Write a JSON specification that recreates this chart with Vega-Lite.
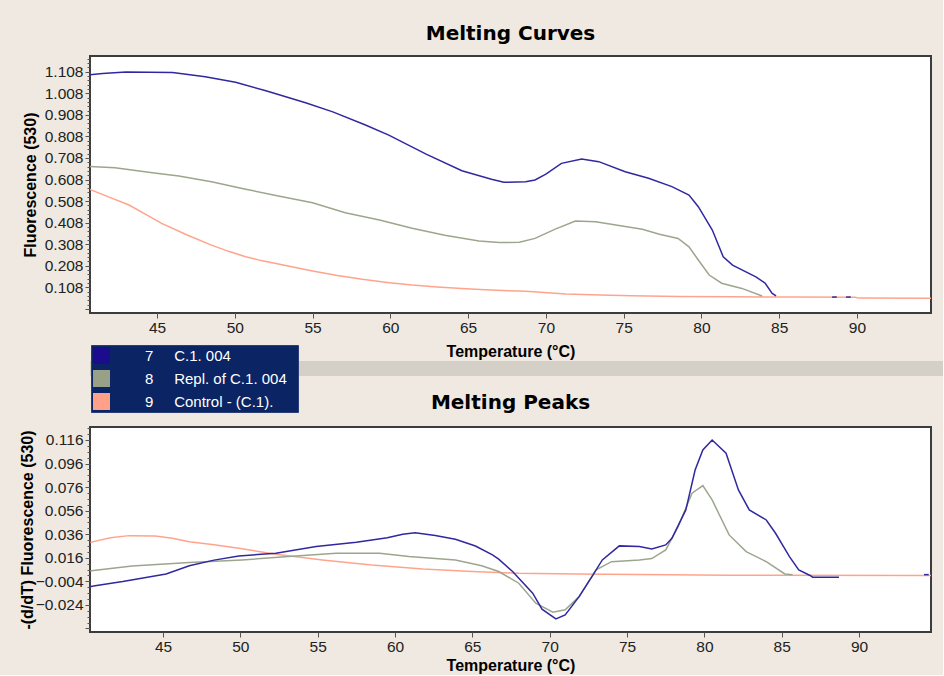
{
  "$schema": "https://vega.github.io/schema/vega-lite/v6.json",
  "background": "#EFE9E1",
  "padding": {"left": 18, "top": 22, "right": 0, "bottom": 0},
  "config": {
    "view": {"stroke": "#3c3c3c", "strokeWidth": 2, "fill": "#ffffff"},
    "axis": {
      "labelFont": "Liberation Sans", "labelFontSize": 15.5, "labelColor": "#222222",
      "titleFont": "Liberation Sans", "titleFontSize": 16, "titleFontWeight": "bold", "titleColor": "#000000",
      "tickColor": "#555555", "domain": false, "grid": false, "labelOverlap": false
    },
    "title": {"font": "DejaVu Sans", "fontSize": 20, "fontWeight": "bold", "color": "#000000", "anchor": "middle"}
  },
  "datasets": {
    "curves": [
      {"T": 40.5, "F": 0.567, "sample": "Control - (C.1).", "seg": "c"},
      {"T": 41.8, "F": 0.53, "sample": "Control - (C.1).", "seg": "c"},
      {"T": 43.2, "F": 0.49, "sample": "Control - (C.1).", "seg": "c"},
      {"T": 44.3, "F": 0.445, "sample": "Control - (C.1).", "seg": "c"},
      {"T": 45.3, "F": 0.405, "sample": "Control - (C.1).", "seg": "c"},
      {"T": 46.9, "F": 0.352, "sample": "Control - (C.1).", "seg": "c"},
      {"T": 48.5, "F": 0.304, "sample": "Control - (C.1).", "seg": "c"},
      {"T": 49.6, "F": 0.275, "sample": "Control - (C.1).", "seg": "c"},
      {"T": 50.7, "F": 0.25, "sample": "Control - (C.1).", "seg": "c"},
      {"T": 51.7, "F": 0.232, "sample": "Control - (C.1).", "seg": "c"},
      {"T": 52.8, "F": 0.216, "sample": "Control - (C.1).", "seg": "c"},
      {"T": 55.0, "F": 0.184, "sample": "Control - (C.1).", "seg": "c"},
      {"T": 56.6, "F": 0.163, "sample": "Control - (C.1).", "seg": "c"},
      {"T": 58.2, "F": 0.145, "sample": "Control - (C.1).", "seg": "c"},
      {"T": 59.8, "F": 0.131, "sample": "Control - (C.1).", "seg": "c"},
      {"T": 61.4, "F": 0.119, "sample": "Control - (C.1).", "seg": "c"},
      {"T": 63.0, "F": 0.11, "sample": "Control - (C.1).", "seg": "c"},
      {"T": 64.6, "F": 0.103, "sample": "Control - (C.1).", "seg": "c"},
      {"T": 66.1, "F": 0.097, "sample": "Control - (C.1).", "seg": "c"},
      {"T": 67.6, "F": 0.092, "sample": "Control - (C.1).", "seg": "c"},
      {"T": 68.7, "F": 0.09, "sample": "Control - (C.1).", "seg": "c"},
      {"T": 71.3, "F": 0.077, "sample": "Control - (C.1).", "seg": "c"},
      {"T": 73.5, "F": 0.072, "sample": "Control - (C.1).", "seg": "c"},
      {"T": 75.5, "F": 0.069, "sample": "Control - (C.1).", "seg": "c"},
      {"T": 78.5, "F": 0.066, "sample": "Control - (C.1).", "seg": "c"},
      {"T": 82.0, "F": 0.064, "sample": "Control - (C.1).", "seg": "c"},
      {"T": 86.0, "F": 0.063, "sample": "Control - (C.1).", "seg": "c"},
      {"T": 89.9, "F": 0.062, "sample": "Control - (C.1).", "seg": "c"},
      {"T": 90.1, "F": 0.058, "sample": "Control - (C.1).", "seg": "c"},
      {"T": 94.8, "F": 0.057, "sample": "Control - (C.1).", "seg": "c"},
      {"T": 40.5, "F": 0.669, "sample": "Repl. of C.1. 004", "seg": "g"},
      {"T": 42.3, "F": 0.663, "sample": "Repl. of C.1. 004", "seg": "g"},
      {"T": 44.7, "F": 0.64, "sample": "Repl. of C.1. 004", "seg": "g"},
      {"T": 46.4, "F": 0.624, "sample": "Repl. of C.1. 004", "seg": "g"},
      {"T": 48.5, "F": 0.598, "sample": "Repl. of C.1. 004", "seg": "g"},
      {"T": 50.7, "F": 0.563, "sample": "Repl. of C.1. 004", "seg": "g"},
      {"T": 52.8, "F": 0.532, "sample": "Repl. of C.1. 004", "seg": "g"},
      {"T": 55.0, "F": 0.5, "sample": "Repl. of C.1. 004", "seg": "g"},
      {"T": 57.1, "F": 0.454, "sample": "Repl. of C.1. 004", "seg": "g"},
      {"T": 59.3, "F": 0.42, "sample": "Repl. of C.1. 004", "seg": "g"},
      {"T": 61.4, "F": 0.382, "sample": "Repl. of C.1. 004", "seg": "g"},
      {"T": 63.5, "F": 0.35, "sample": "Repl. of C.1. 004", "seg": "g"},
      {"T": 65.7, "F": 0.323, "sample": "Repl. of C.1. 004", "seg": "g"},
      {"T": 67.0, "F": 0.316, "sample": "Repl. of C.1. 004", "seg": "g"},
      {"T": 68.3, "F": 0.317, "sample": "Repl. of C.1. 004", "seg": "g"},
      {"T": 69.3, "F": 0.335, "sample": "Repl. of C.1. 004", "seg": "g"},
      {"T": 70.6, "F": 0.378, "sample": "Repl. of C.1. 004", "seg": "g"},
      {"T": 71.9, "F": 0.416, "sample": "Repl. of C.1. 004", "seg": "g"},
      {"T": 73.2, "F": 0.412, "sample": "Repl. of C.1. 004", "seg": "g"},
      {"T": 74.9, "F": 0.392, "sample": "Repl. of C.1. 004", "seg": "g"},
      {"T": 76.2, "F": 0.377, "sample": "Repl. of C.1. 004", "seg": "g"},
      {"T": 77.3, "F": 0.354, "sample": "Repl. of C.1. 004", "seg": "g"},
      {"T": 78.5, "F": 0.335, "sample": "Repl. of C.1. 004", "seg": "g"},
      {"T": 79.2, "F": 0.296, "sample": "Repl. of C.1. 004", "seg": "g"},
      {"T": 79.8, "F": 0.235, "sample": "Repl. of C.1. 004", "seg": "g"},
      {"T": 80.5, "F": 0.165, "sample": "Repl. of C.1. 004", "seg": "g"},
      {"T": 81.3, "F": 0.127, "sample": "Repl. of C.1. 004", "seg": "g"},
      {"T": 82.6, "F": 0.103, "sample": "Repl. of C.1. 004", "seg": "g"},
      {"T": 83.9, "F": 0.068, "sample": "Repl. of C.1. 004", "seg": "g"},
      {"T": 40.5, "F": 1.093, "sample": "C.1. 004", "seg": "b1"},
      {"T": 41.5, "F": 1.1, "sample": "C.1. 004", "seg": "b1"},
      {"T": 43.0, "F": 1.107, "sample": "C.1. 004", "seg": "b1"},
      {"T": 46.0, "F": 1.105, "sample": "C.1. 004", "seg": "b1"},
      {"T": 48.1, "F": 1.085, "sample": "C.1. 004", "seg": "b1"},
      {"T": 50.05, "F": 1.059, "sample": "C.1. 004", "seg": "b1"},
      {"T": 52.0, "F": 1.02, "sample": "C.1. 004", "seg": "b1"},
      {"T": 54.55, "F": 0.964, "sample": "C.1. 004", "seg": "b1"},
      {"T": 56.3, "F": 0.922, "sample": "C.1. 004", "seg": "b1"},
      {"T": 58.4, "F": 0.861, "sample": "C.1. 004", "seg": "b1"},
      {"T": 59.9, "F": 0.814, "sample": "C.1. 004", "seg": "b1"},
      {"T": 62.3, "F": 0.726, "sample": "C.1. 004", "seg": "b1"},
      {"T": 64.6, "F": 0.649, "sample": "C.1. 004", "seg": "b1"},
      {"T": 66.5, "F": 0.609, "sample": "C.1. 004", "seg": "b1"},
      {"T": 67.3, "F": 0.595, "sample": "C.1. 004", "seg": "b1"},
      {"T": 68.7, "F": 0.598, "sample": "C.1. 004", "seg": "b1"},
      {"T": 69.3, "F": 0.606, "sample": "C.1. 004", "seg": "b1"},
      {"T": 70.0, "F": 0.633, "sample": "C.1. 004", "seg": "b1"},
      {"T": 71.0, "F": 0.683, "sample": "C.1. 004", "seg": "b1"},
      {"T": 72.3, "F": 0.703, "sample": "C.1. 004", "seg": "b1"},
      {"T": 73.4, "F": 0.691, "sample": "C.1. 004", "seg": "b1"},
      {"T": 75.1, "F": 0.644, "sample": "C.1. 004", "seg": "b1"},
      {"T": 76.6, "F": 0.614, "sample": "C.1. 004", "seg": "b1"},
      {"T": 78.1, "F": 0.575, "sample": "C.1. 004", "seg": "b1"},
      {"T": 79.2, "F": 0.536, "sample": "C.1. 004", "seg": "b1"},
      {"T": 79.8, "F": 0.482, "sample": "C.1. 004", "seg": "b1"},
      {"T": 80.7, "F": 0.374, "sample": "C.1. 004", "seg": "b1"},
      {"T": 81.4, "F": 0.25, "sample": "C.1. 004", "seg": "b1"},
      {"T": 82.0, "F": 0.211, "sample": "C.1. 004", "seg": "b1"},
      {"T": 83.5, "F": 0.157, "sample": "C.1. 004", "seg": "b1"},
      {"T": 84.1, "F": 0.127, "sample": "C.1. 004", "seg": "b1"},
      {"T": 84.55, "F": 0.08, "sample": "C.1. 004", "seg": "b1"},
      {"T": 84.8, "F": 0.068, "sample": "C.1. 004", "seg": "b1"},
      {"T": 88.4, "F": 0.063, "sample": "C.1. 004", "seg": "b2"},
      {"T": 88.7, "F": 0.063, "sample": "C.1. 004", "seg": "b2"},
      {"T": 89.3, "F": 0.063, "sample": "C.1. 004", "seg": "b3"},
      {"T": 89.6, "F": 0.063, "sample": "C.1. 004", "seg": "b3"}
    ],
    "peaks": [
      {"T": 40.3, "D": 0.029, "sample": "Control - (C.1).", "seg": "c"},
      {"T": 40.5, "D": 0.0297, "sample": "Control - (C.1).", "seg": "c"},
      {"T": 41.6, "D": 0.033, "sample": "Control - (C.1).", "seg": "c"},
      {"T": 42.8, "D": 0.0348, "sample": "Control - (C.1).", "seg": "c"},
      {"T": 44.5, "D": 0.0345, "sample": "Control - (C.1).", "seg": "c"},
      {"T": 45.6, "D": 0.0325, "sample": "Control - (C.1).", "seg": "c"},
      {"T": 46.7, "D": 0.0297, "sample": "Control - (C.1).", "seg": "c"},
      {"T": 48.3, "D": 0.027, "sample": "Control - (C.1).", "seg": "c"},
      {"T": 49.9, "D": 0.0241, "sample": "Control - (C.1).", "seg": "c"},
      {"T": 52.3, "D": 0.019, "sample": "Control - (C.1).", "seg": "c"},
      {"T": 55.3, "D": 0.0142, "sample": "Control - (C.1).", "seg": "c"},
      {"T": 58.5, "D": 0.0099, "sample": "Control - (C.1).", "seg": "c"},
      {"T": 61.8, "D": 0.0065, "sample": "Control - (C.1).", "seg": "c"},
      {"T": 65.0, "D": 0.0043, "sample": "Control - (C.1).", "seg": "c"},
      {"T": 68.0, "D": 0.0029, "sample": "Control - (C.1).", "seg": "c"},
      {"T": 71.7, "D": 0.0023, "sample": "Control - (C.1).", "seg": "c"},
      {"T": 81.6, "D": 0.0012, "sample": "Control - (C.1).", "seg": "c"},
      {"T": 94.7, "D": 0.0009, "sample": "Control - (C.1).", "seg": "c"},
      {"T": 40.3, "D": 0.0048, "sample": "Repl. of C.1. 004", "seg": "g"},
      {"T": 40.5, "D": 0.0051, "sample": "Repl. of C.1. 004", "seg": "g"},
      {"T": 43.0, "D": 0.0091, "sample": "Repl. of C.1. 004", "seg": "g"},
      {"T": 46.7, "D": 0.0119, "sample": "Repl. of C.1. 004", "seg": "g"},
      {"T": 50.1, "D": 0.0142, "sample": "Repl. of C.1. 004", "seg": "g"},
      {"T": 53.1, "D": 0.017, "sample": "Repl. of C.1. 004", "seg": "g"},
      {"T": 56.2, "D": 0.0199, "sample": "Repl. of C.1. 004", "seg": "g"},
      {"T": 59.0, "D": 0.0199, "sample": "Repl. of C.1. 004", "seg": "g"},
      {"T": 60.9, "D": 0.017, "sample": "Repl. of C.1. 004", "seg": "g"},
      {"T": 63.9, "D": 0.0142, "sample": "Repl. of C.1. 004", "seg": "g"},
      {"T": 65.6, "D": 0.0093, "sample": "Repl. of C.1. 004", "seg": "g"},
      {"T": 66.7, "D": 0.0043, "sample": "Repl. of C.1. 004", "seg": "g"},
      {"T": 68.0, "D": -0.0056, "sample": "Repl. of C.1. 004", "seg": "g"},
      {"T": 69.1, "D": -0.0226, "sample": "Repl. of C.1. 004", "seg": "g"},
      {"T": 70.2, "D": -0.0302, "sample": "Repl. of C.1. 004", "seg": "g"},
      {"T": 71.0, "D": -0.0282, "sample": "Repl. of C.1. 004", "seg": "g"},
      {"T": 71.9, "D": -0.017, "sample": "Repl. of C.1. 004", "seg": "g"},
      {"T": 73.0, "D": 0.0057, "sample": "Repl. of C.1. 004", "seg": "g"},
      {"T": 74.0, "D": 0.0127, "sample": "Repl. of C.1. 004", "seg": "g"},
      {"T": 75.8, "D": 0.0142, "sample": "Repl. of C.1. 004", "seg": "g"},
      {"T": 76.6, "D": 0.0153, "sample": "Repl. of C.1. 004", "seg": "g"},
      {"T": 77.5, "D": 0.0227, "sample": "Repl. of C.1. 004", "seg": "g"},
      {"T": 78.3, "D": 0.0424, "sample": "Repl. of C.1. 004", "seg": "g"},
      {"T": 79.2, "D": 0.0708, "sample": "Repl. of C.1. 004", "seg": "g"},
      {"T": 79.9, "D": 0.0772, "sample": "Repl. of C.1. 004", "seg": "g"},
      {"T": 80.5, "D": 0.0651, "sample": "Repl. of C.1. 004", "seg": "g"},
      {"T": 81.6, "D": 0.0354, "sample": "Repl. of C.1. 004", "seg": "g"},
      {"T": 82.7, "D": 0.0212, "sample": "Repl. of C.1. 004", "seg": "g"},
      {"T": 84.0, "D": 0.0127, "sample": "Repl. of C.1. 004", "seg": "g"},
      {"T": 85.2, "D": 0.0023, "sample": "Repl. of C.1. 004", "seg": "g"},
      {"T": 85.7, "D": 0.0015, "sample": "Repl. of C.1. 004", "seg": "g"},
      {"T": 40.3, "D": -0.0085, "sample": "C.1. 004", "seg": "b1"},
      {"T": 40.5, "D": -0.008, "sample": "C.1. 004", "seg": "b1"},
      {"T": 42.4, "D": -0.0042, "sample": "C.1. 004", "seg": "b1"},
      {"T": 45.2, "D": 0.0023, "sample": "C.1. 004", "seg": "b1"},
      {"T": 46.7, "D": 0.0093, "sample": "C.1. 004", "seg": "b1"},
      {"T": 48.3, "D": 0.014, "sample": "C.1. 004", "seg": "b1"},
      {"T": 49.9, "D": 0.0176, "sample": "C.1. 004", "seg": "b1"},
      {"T": 52.3, "D": 0.0199, "sample": "C.1. 004", "seg": "b1"},
      {"T": 54.9, "D": 0.0255, "sample": "C.1. 004", "seg": "b1"},
      {"T": 57.5, "D": 0.0292, "sample": "C.1. 004", "seg": "b1"},
      {"T": 59.5, "D": 0.033, "sample": "C.1. 004", "seg": "b1"},
      {"T": 60.5, "D": 0.036, "sample": "C.1. 004", "seg": "b1"},
      {"T": 61.3, "D": 0.0373, "sample": "C.1. 004", "seg": "b1"},
      {"T": 62.6, "D": 0.035, "sample": "C.1. 004", "seg": "b1"},
      {"T": 63.9, "D": 0.0317, "sample": "C.1. 004", "seg": "b1"},
      {"T": 65.2, "D": 0.026, "sample": "C.1. 004", "seg": "b1"},
      {"T": 66.3, "D": 0.0184, "sample": "C.1. 004", "seg": "b1"},
      {"T": 66.7, "D": 0.0148, "sample": "C.1. 004", "seg": "b1"},
      {"T": 67.6, "D": 0.0043, "sample": "C.1. 004", "seg": "b1"},
      {"T": 68.9, "D": -0.0141, "sample": "C.1. 004", "seg": "b1"},
      {"T": 69.5, "D": -0.0276, "sample": "C.1. 004", "seg": "b1"},
      {"T": 70.4, "D": -0.0359, "sample": "C.1. 004", "seg": "b1"},
      {"T": 71.0, "D": -0.0325, "sample": "C.1. 004", "seg": "b1"},
      {"T": 71.9, "D": -0.017, "sample": "C.1. 004", "seg": "b1"},
      {"T": 72.8, "D": 0.0015, "sample": "C.1. 004", "seg": "b1"},
      {"T": 73.4, "D": 0.0142, "sample": "C.1. 004", "seg": "b1"},
      {"T": 74.5, "D": 0.0261, "sample": "C.1. 004", "seg": "b1"},
      {"T": 75.8, "D": 0.0255, "sample": "C.1. 004", "seg": "b1"},
      {"T": 76.6, "D": 0.0235, "sample": "C.1. 004", "seg": "b1"},
      {"T": 77.5, "D": 0.0269, "sample": "C.1. 004", "seg": "b1"},
      {"T": 77.9, "D": 0.0326, "sample": "C.1. 004", "seg": "b1"},
      {"T": 78.8, "D": 0.0566, "sample": "C.1. 004", "seg": "b1"},
      {"T": 79.4, "D": 0.0905, "sample": "C.1. 004", "seg": "b1"},
      {"T": 79.9, "D": 0.1075, "sample": "C.1. 004", "seg": "b1"},
      {"T": 80.5, "D": 0.116, "sample": "C.1. 004", "seg": "b1"},
      {"T": 81.4, "D": 0.1047, "sample": "C.1. 004", "seg": "b1"},
      {"T": 82.2, "D": 0.0736, "sample": "C.1. 004", "seg": "b1"},
      {"T": 82.9, "D": 0.0566, "sample": "C.1. 004", "seg": "b1"},
      {"T": 84.0, "D": 0.0481, "sample": "C.1. 004", "seg": "b1"},
      {"T": 84.6, "D": 0.0368, "sample": "C.1. 004", "seg": "b1"},
      {"T": 85.5, "D": 0.017, "sample": "C.1. 004", "seg": "b1"},
      {"T": 86.1, "D": 0.0057, "sample": "C.1. 004", "seg": "b1"},
      {"T": 86.8, "D": 0.0012, "sample": "C.1. 004", "seg": "b1"},
      {"T": 87.0, "D": -0.0005, "sample": "C.1. 004", "seg": "b1"},
      {"T": 88.7, "D": -0.0005, "sample": "C.1. 004", "seg": "b1"},
      {"T": 94.2, "D": 0.0017, "sample": "C.1. 004", "seg": "b2"},
      {"T": 94.5, "D": 0.0017, "sample": "C.1. 004", "seg": "b2"}
    ],
    "samples": [
      {"sample": "C.1. 004"},
      {"sample": "Repl. of C.1. 004"},
      {"sample": "Control - (C.1)."}
    ]
  },
  "bounds": "flush",
  "spacing": 48,
  "resolve": {"scale": {"color": "independent"}, "legend": {"color": "independent"}},
  "vconcat": [
    {
      "width": 841,
      "height": 257,
      "title": {"text": "Melting Curves", "offset": 8},
      "data": {"name": "curves"},
      "mark": {"type": "line", "strokeWidth": 1.5, "clip": true},
      "encoding": {
        "x": {
          "field": "T", "type": "quantitative",
          "scale": {"domain": [40.69, 94.76], "nice": false, "zero": false},
          "axis": {"values": [45, 50, 55, 60, 65, 70, 75, 80, 85, 90], "format": "d", "tickSize": 5, "labelPadding": 2, "title": "Temperature (°C)", "titlePadding": 8}
        },
        "y": {
          "field": "F", "type": "quantitative",
          "scale": {"domain": [-0.011, 1.181], "nice": false, "zero": false},
          "axis": {
            "title": "Fluorescence (530)", "titlePadding": 6, "format": ".3f", "labelPadding": 2,
            "values": [0.008, 0.028, 0.048, 0.068, 0.088, 0.108, 0.128, 0.148, 0.168, 0.188, 0.208, 0.228, 0.248, 0.268, 0.288, 0.308, 0.328, 0.348, 0.368, 0.388, 0.408, 0.428, 0.448, 0.468, 0.488, 0.508, 0.528, 0.548, 0.568, 0.588, 0.608, 0.628, 0.648, 0.668, 0.688, 0.708, 0.728, 0.748, 0.768, 0.788, 0.808, 0.828, 0.848, 0.868, 0.888, 0.908, 0.928, 0.948, 0.968, 0.988, 1.008, 1.028, 1.048, 1.068, 1.088, 1.108, 1.128, 1.148, 1.168],
            "labelExpr": "datum.value > 0.1 && abs((datum.value - 0.108) * 10 - round((datum.value - 0.108) * 10)) < 0.001 ? datum.label : ''",
            "tickSize": {"condition": {"test": "abs((datum.value - 0.108) * 10 - round((datum.value - 0.108) * 10)) < 0.001", "value": 5}, "value": 3}
          }
        },
        "color": {
          "field": "sample", "type": "nominal",
          "scale": {"domain": ["C.1. 004", "Repl. of C.1. 004", "Control - (C.1)."], "range": ["#3028A0", "#9CA68E", "#FFA48C"]},
          "legend": null
        },
        "detail": {"field": "seg"}
      }
    },
    {
      "bounds": "flush",
      "spacing": 51,
      "resolve": {"scale": {"color": "independent"}, "legend": {"color": "independent"}},
      "vconcat": [
        {
          "width": 853,
          "height": 15,
          "view": {"fill": "#D4D0C8", "stroke": null},
          "data": {"name": "samples"},
          "mark": {"type": "text", "text": ""},
          "encoding": {
            "color": {
              "field": "sample", "type": "nominal",
              "scale": {"domain": ["C.1. 004", "Repl. of C.1. 004", "Control - (C.1)."], "range": ["#1A0C8C", "#98A088", "#FFA088"]},
              "legend": {
                "orient": "none", "legendX": 1, "legendY": -16, "direction": "vertical",
                "title": null, "fillColor": "#0B2463", "strokeColor": "#2A3F78", "padding": 2,
                "symbolType": "square", "symbolSize": 289, "symbolStrokeWidth": 0, "symbolOpacity": 1,
                "rowPadding": 6, "labelOffset": 35, "labelColor": "#FFFFFF",
                "labelFont": "Liberation Sans", "labelFontSize": 15, "labelLimit": 400,
                "labelExpr": "(datum.label == 'C.1. 004' ? '7' : datum.label == 'Repl. of C.1. 004' ? '8' : '9') + '\u00a0\u00a0\u00a0\u00a0\u00a0' + datum.label + '\u00a0\u00a0\u200b'"
              }
            }
          }
        },
        {
          "width": 841,
          "height": 205,
          "title": {"text": "Melting Peaks", "offset": 8},
          "data": {"name": "peaks"},
          "mark": {"type": "line", "strokeWidth": 1.5, "clip": true},
          "encoding": {
            "x": {
              "field": "T", "type": "quantitative",
              "scale": {"domain": [40.28, 94.65], "nice": false, "zero": false},
              "axis": {"values": [45, 50, 55, 60, 65, 70, 75, 80, 85, 90], "format": "d", "tickSize": 5, "labelPadding": 2, "title": "Temperature (°C)", "titlePadding": 3}
            },
            "y": {
              "field": "D", "type": "quantitative",
              "scale": {"domain": [-0.047, 0.127], "nice": false, "zero": false},
              "axis": {
                "title": "-(d/dT) Fluorescence (530)", "titlePadding": 0, "format": ".3f", "labelPadding": 2,
                "values": [0.126, 0.121, 0.116, 0.111, 0.106, 0.101, 0.096, 0.091, 0.086, 0.081, 0.076, 0.071, 0.066, 0.061, 0.056, 0.051, 0.046, 0.041, 0.036, 0.031, 0.026, 0.021, 0.016, 0.011, 0.006, 0.001, -0.004, -0.009, -0.014, -0.019, -0.024, -0.029, -0.034, -0.039, -0.044],
                "labelExpr": "datum.value > -0.03 && abs((datum.value - 0.116) * 50 - round((datum.value - 0.116) * 50)) < 0.001 ? datum.label : ''",
                "tickSize": {"condition": {"test": "abs((datum.value - 0.116) * 50 - round((datum.value - 0.116) * 50)) < 0.001", "value": 5}, "value": 3}
              }
            },
            "color": {
              "field": "sample", "type": "nominal",
              "scale": {"domain": ["C.1. 004", "Repl. of C.1. 004", "Control - (C.1)."], "range": ["#3028A0", "#9CA68E", "#FFA48C"]},
              "legend": null
            },
            "detail": {"field": "seg"}
          }
        }
      ]
    }
  ]
}
